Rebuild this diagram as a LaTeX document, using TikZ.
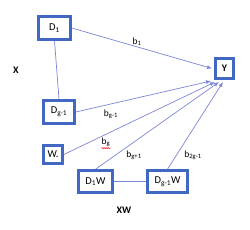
\documentclass[tikz,border=0pt]{standalone}
\usepackage{fontspec}
\setmainfont{Carlito}
\usetikzlibrary{arrows.meta,decorations.pathmorphing}
\definecolor{boxblue}{HTML}{4169C4}
\definecolor{lineblue}{HTML}{7B86D6}
\tikzset{
  vbox/.style={draw=boxblue,line width=2.6pt,fill=white,inner sep=0pt,font=\fontsize{10.5}{12}\selectfont},
  conn/.style={draw=lineblue,line width=0.7pt},
  arr/.style={conn,-{Latex[length=5pt,width=4pt]}},
  lbl/.style={font=\fontsize{9.5}{11}\selectfont,inner sep=0pt},
  big/.style={font=\fontsize{10}{12}\selectfont\bfseries,inner sep=0pt}
}
\begin{document}
\begin{tikzpicture}[x=1pt,y=-1pt]
\useasboundingbox (0,0) rectangle (250,230);
\node[vbox,minimum width=32pt,minimum height=23pt] (d1) at (54.5,28) {D\textsubscript{1}};
\node[vbox,minimum width=31pt,minimum height=23pt] (dg) at (59,112) {D\textsubscript{g-1}};
\node[vbox,minimum width=19pt,minimum height=18pt] (w) at (53,154.5) {W.};
\node[vbox,minimum width=34pt,minimum height=22pt] (d1w) at (95.5,181.5) {D\textsubscript{1}W};
\node[vbox,minimum width=40pt,minimum height=22pt] (dgw) at (167.5,181.5) {D\textsubscript{g-1}W};
\node[vbox,minimum width=18pt,minimum height=20pt,font=\fontsize{10}{12}\selectfont\bfseries] (y) at (224.5,68.5) {Y};
\coordinate (e1) at (212,68.5);
\coordinate (e2) at (211,81);
\coordinate (e3) at (215,82);
\coordinate (e4) at (219,82);
\coordinate (e5) at (223,82);
\draw[conn] (d1.south) -- (dg.north);
\draw[conn] (d1w.east) -- (dgw.west);
\draw[arr] (d1.east) -- (e1);
\draw[arr] (dg.east) -- (e2);
\draw[arr] (w.east) -- (e3);
\draw[arr] (d1w.north) -- (e4);
\draw[arr] (dgw.north) -- (e5);
\node[big] (x) at (16,70) {X};
\node[big] (xw) at (124,210) {XW};
\node[lbl] (b1) at (137,42) {b\textsubscript{1}};
\node[lbl] (bgm) at (111,114) {b\textsubscript{g-1}};
\node[lbl] (bg) at (106,142) {b\textsubscript{g}};
\draw[red,line width=0.5pt,decorate,decoration={snake,amplitude=0.5pt,segment length=2pt}] ([yshift=-1.5pt]bg.south west) -- ([yshift=-1.5pt]bg.south east);
\node[lbl] (bgp) at (134,155) {b\textsubscript{g+1}};
\node[lbl] (b2g) at (193,155) {b\textsubscript{2g-1}};
\end{tikzpicture}
\end{document}
